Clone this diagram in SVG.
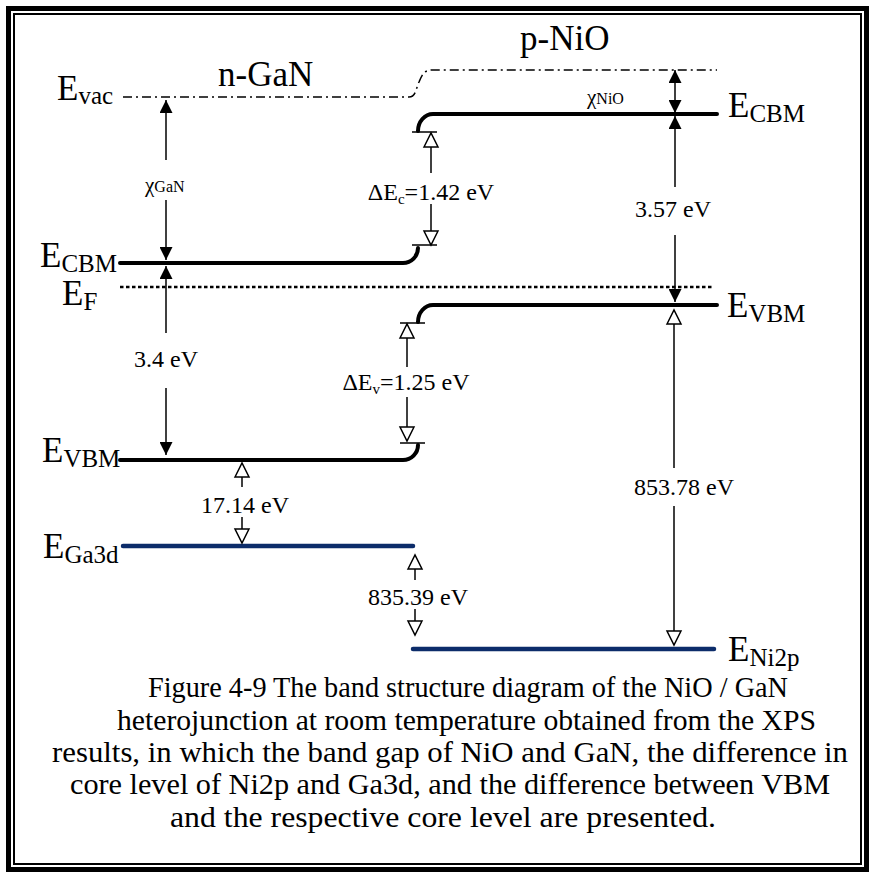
<svg xmlns="http://www.w3.org/2000/svg" width="875" height="873" viewBox="0 0 875 873">
<defs>
<style>
text{font-family:"Liberation Serif","Times New Roman",serif;fill:#000}
.big{font-size:35px}
.sub{font-size:25px}
.ann{font-size:24px}
.cap{font-size:30px}
.band{fill:none;stroke:#000;stroke-width:4;stroke-linecap:round}
.core{fill:none;stroke:#0c2c6a;stroke-width:4.5;stroke-linecap:round}
.vac{fill:none;stroke:#000;stroke-width:1.5;stroke-dasharray:9 4 2 4}
.fermi{fill:none;stroke:#000;stroke-width:2.5;stroke-dasharray:3.5 2.5}
.arF{fill:none;stroke:#000;stroke-width:1.5}
.arF.s{marker-start:url(#hf)}
.arF.e{marker-end:url(#hf)}
.arO{fill:none;stroke:#000;stroke-width:1.5}
.arO.s{marker-start:url(#ho)}
.arO.e{marker-end:url(#ho)}
.tick{stroke:#000;stroke-width:1.5}
</style>
<marker id="hf" markerUnits="userSpaceOnUse" viewBox="0 0 13 13" refX="13" refY="6.5" markerWidth="13" markerHeight="13" orient="auto-start-reverse">
<path d="M0,0 L13,6.5 L0,13 Z" fill="#000"/>
</marker>
<marker id="ho" markerUnits="userSpaceOnUse" viewBox="-1 -1 16 16" refX="14" refY="7" markerWidth="16" markerHeight="16" orient="auto-start-reverse" overflow="visible">
<path d="M0,0 L14,7 L0,14 Z" fill="#fff" stroke="#000" stroke-width="1.5" stroke-linejoin="miter"/>
</marker>
</defs>
<rect width="875" height="873" fill="#fff"/>
<g id="frame">
<rect x="8.5" y="8.5" width="858" height="861" fill="none" stroke="#000" stroke-width="5"/>
<rect x="14" y="14" width="847" height="850" fill="none" stroke="#000" stroke-width="2"/>
</g>
<g id="n-GaN-title"><text class="big" x="218" y="86">n-GaN</text></g>
<g id="p-NiO-title"><text class="big" x="520" y="50">p-NiO</text></g>
<g id="Evac">
<path class="vac" d="M123,97 H409 C416,97 416,88 419,82 C422,75 424,70 432,70 H717"/>
<text class="big" x="57" y="100">E<tspan class="sub" dy="4">vac</tspan></text>
</g>
<g id="Ecbm-GaN">
<path class="band" d="M120,263 H403 A15,15 0 0 0 418,248"/>
<text class="big" x="40" y="267">E<tspan class="sub" dy="5">CBM</tspan></text>
</g>
<g id="Ef">
<path class="fermi" d="M120,287 H712"/>
<text class="big" x="62" y="305">E<tspan class="sub" dy="5">F</tspan></text>
</g>
<g id="Evbm-GaN">
<path class="band" d="M120,460 H403 A15,15 0 0 0 418,445"/>
<text class="big" x="42" y="462">E<tspan class="sub" dy="5">VBM</tspan></text>
</g>
<g id="Ecbm-NiO">
<path class="band" d="M418,131 A15,17 0 0 1 433,114 H717"/>
<text class="big" x="728" y="117">E<tspan class="sub" dy="5">CBM</tspan></text>
</g>
<g id="Evbm-NiO">
<path class="band" d="M418,322 A15,17 0 0 1 433,305 H717"/>
<text class="big" x="727" y="317">E<tspan class="sub" dy="5">VBM</tspan></text>
</g>
<g id="Ega3d">
<path class="core" d="M123,546 H413"/>
<text class="big" x="43" y="558">E<tspan class="sub" dy="5">Ga3d</tspan></text>
</g>
<g id="Eni2p">
<path class="core" d="M413,649 H714"/>
<text class="big" x="728" y="661">E<tspan class="sub" dy="5">Ni2p</tspan></text>
</g>
<g id="connectors">
<path class="arF s" d="M166,100 V160"/>
<path class="arF e" d="M166,200 V260"/>
<path class="arF s" d="M166,266 V333"/>
<path class="arF e" d="M166,388 V455"/>
<path class="arF s e" d="M675,70 V113"/>
<path class="arF s" d="M675,116 V187"/>
<path class="arF e" d="M675,235 V302"/>
<path class="arO s" d="M431,133 V173"/>
<path class="arO e" d="M431,204 V245"/>
<path class="arO s" d="M407,324 V367"/>
<path class="arO e" d="M407,397 V441"/>
<path class="arO s" d="M242,463 V487"/>
<path class="arO e" d="M242,517 V543"/>
<path class="arO s" d="M415,555 V580"/>
<path class="arO e" d="M415,609 V635"/>
<path class="arO s" d="M674,310 V468"/>
<path class="arO e" d="M674,506 V645"/>
<path class="tick" d="M412,132 H437 M412,245 H437 M400,323 H425 M400,443 H425"/>
</g>
<g id="labels">
<text x="145" y="192"><tspan style="font-size:21px">χ</tspan><tspan style="font-size:16px">GaN</tspan></text>
<text x="587" y="104"><tspan style="font-size:21px">χ</tspan><tspan style="font-size:16px">NiO</tspan></text>
<text class="ann" x="431" y="200" text-anchor="middle">ΔE<tspan style="font-size:15px" dy="4">c</tspan><tspan dy="-4">=1.42 eV</tspan></text>
<text class="ann" x="406" y="390" text-anchor="middle">ΔE<tspan style="font-size:15px" dy="4">v</tspan><tspan dy="-4">=1.25 eV</tspan></text>
<text class="ann" x="166" y="367" text-anchor="middle">3.4 eV</text>
<text class="ann" x="673" y="217" text-anchor="middle">3.57 eV</text>
<text class="ann" x="245" y="513" text-anchor="middle">17.14 eV</text>
<text class="ann" x="418" y="605" text-anchor="middle">835.39 eV</text>
<text class="ann" x="684" y="495" text-anchor="middle">853.78 eV</text>
</g>
<g id="caption">
<text class="cap" x="148" y="697" textLength="640" lengthAdjust="spacingAndGlyphs">Figure 4-9 The band structure diagram of the NiO / GaN</text>
<text class="cap" x="117" y="730" textLength="699" lengthAdjust="spacingAndGlyphs">heterojunction at room temperature obtained from the XPS</text>
<text class="cap" x="52" y="762" textLength="796" lengthAdjust="spacingAndGlyphs">results, in which the band gap of NiO and GaN, the difference in</text>
<text class="cap" x="70" y="794" textLength="760" lengthAdjust="spacingAndGlyphs">core level of Ni2p and Ga3d, and the difference between VBM</text>
<text class="cap" x="170" y="827" textLength="546" lengthAdjust="spacingAndGlyphs">and the respective core level are presented.</text>
</g>
</svg>
